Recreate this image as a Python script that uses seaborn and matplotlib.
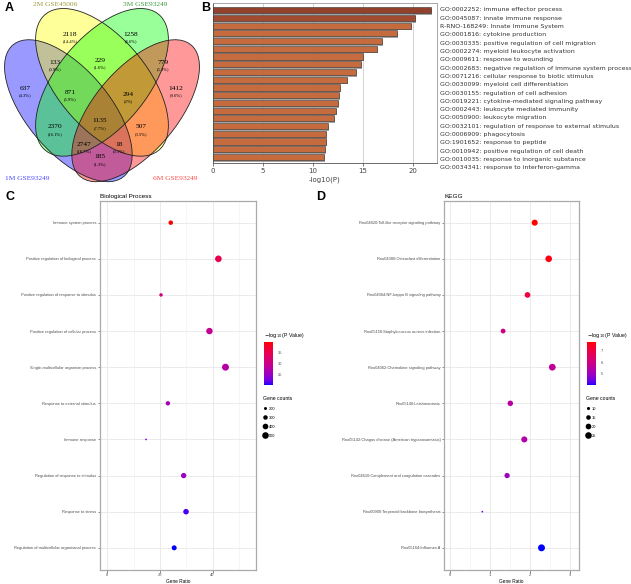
import numpy as np
import pandas as pd
import matplotlib
matplotlib.use("Agg")
import matplotlib.pyplot as plt
import seaborn as sns
from matplotlib.patches import Ellipse
from matplotlib.colors import ListedColormap, Normalize
from matplotlib.cm import ScalarMappable
from matplotlib.lines import Line2D
import matplotlib.patheffects as pe
import matplotlib.transforms as mtrans

# ------------------------------------------------------------------ data
venn_names = ["1M GSE93249", "2M GSE45006", "3M GSE93249", "6M GSE93249"]
venn_counts = [637, 2118, 1258, 1412, 133, 229, 779, 871, 294, 1135, 2370, 507, 2747, 18, 185]

go_terms = [
    "GO:0002252: immune effector process",
    "GO:0045087: innate immune response",
    "R-RNO-168249: Innate Immune System",
    "GO:0001816: cytokine production",
    "GO:0030335: positive regulation of cell migration",
    "GO:0002274: myeloid leukocyte activation",
    "GO:0009611: response to wounding",
    "GO:0002683: negative regulation of immune system process",
    "GO:0071216: cellular response to biotic stimulus",
    "GO:0030099: myeloid cell differentiation",
    "GO:0030155: regulation of cell adhesion",
    "GO:0019221: cytokine-mediated signaling pathway",
    "GO:0002443: leukocyte mediated immunity",
    "GO:0050900: leukocyte migration",
    "GO:0032101: regulation of response to external stimulus",
    "GO:0006909: phagocytosis",
    "GO:1901652: response to peptide",
    "GO:0010942: positive regulation of cell death",
    "GO:0010035: response to inorganic substance",
    "GO:0034341: response to interferon-gamma",
]
go_logp = [21.8, 20.2, 19.8, 18.4, 16.9, 16.4, 15.05, 14.85, 14.3, 13.45,
           12.75, 12.6, 12.5, 12.35, 12.1, 11.5, 11.35, 11.3, 11.2, 11.1]

bp_terms = [
    "Immune system process",
    "Positive regulation of biological process",
    "Positive regulation of response to stimulus",
    "Positive regulation of cellular process",
    "Single-multicellular organism process",
    "Response to external stimulus",
    "Immune response",
    "Regulation of response to stimulus",
    "Response to stress",
    "Regulation of multicellular organismal process",
]
bp_ratio = [24.1, 42.2, 20.4, 38.8, 44.9, 23.0, 14.7, 29.0, 29.9, 25.4]
bp_logp = [39.7, 35.0, 31.0, 29.0, 27.5, 26.0, 22.5, 25.0, 21.0, 20.1]
bp_count = [300, 500, 230, 480, 540, 290, 150, 370, 390, 340]
bp_size_breaks = [200, 300, 400, 500]
bp_color_ticks = [25, 30, 35]

kegg_terms = [
    "Rno04620:Toll-like receptor signaling pathway",
    "Rno04380:Osteoclast differentiation",
    "Rno04064:NF-kappa B signaling pathway",
    "Rno05150:Staphylococcus aureus infection",
    "Rno04062:Chemokine signaling pathway",
    "Rno05140:Leishmaniasis",
    "Rno05142:Chagas disease (American trypanosomiasis)",
    "Rno04610:Complement and coagulation cascades",
    "Rno00900:Terpenoid backbone biosynthesis",
    "Rno05164:Influenza A",
]
kegg_ratio = [2.12, 2.47, 1.94, 1.33, 2.56, 1.51, 1.86, 1.43, 0.81, 2.29]
kegg_logp = [7.7, 7.6, 7.0, 6.0, 5.6, 5.5, 5.4, 5.0, 4.4, 4.05]
kegg_count = [22, 25, 20, 16, 26, 19, 22, 18, 7, 27]
kegg_size_breaks = [10, 15, 20, 25]
kegg_color_ticks = [5, 6, 7]

# ------------------------------------------------------------------ helpers
W, H = 631, 584
fig = plt.figure(figsize=(W / 100, H / 100), dpi=100)


def px_axes(x0, y0, x1, y1):
    return fig.add_axes([x0 / W, 1 - y1 / H, (x1 - x0) / W, (y1 - y0) / H])


def _lab(rgb):
    rgb = np.asarray(rgb, float)
    c = np.where(rgb <= 0.04045, rgb / 12.92, ((rgb + 0.055) / 1.055) ** 2.4)
    M = np.array([[0.4124, 0.3576, 0.1805], [0.2126, 0.7152, 0.0722], [0.0193, 0.1192, 0.9505]])
    t = M @ c / np.array([0.95047, 1.0, 1.08883])
    f = np.where(t > 0.008856, np.cbrt(t), 7.787 * t + 16 / 116)
    return np.array([116 * f[1] - 16, 500 * (f[0] - f[1]), 200 * (f[1] - f[2])])


def _rgb(lab):
    L, a, b = lab
    fy = (L + 16) / 116
    fx = fy + a / 500
    fz = fy - b / 200
    f = np.array([fx, fy, fz])
    t = np.where(f ** 3 > 0.008856, f ** 3, (f - 16 / 116) / 7.787) * np.array([0.95047, 1.0, 1.08883])
    Mi = np.array([[3.2406, -1.5372, -0.4986], [-0.9689, 1.8758, 0.0415], [0.0557, -0.2040, 1.0570]])
    c = Mi @ t
    c = np.where(c <= 0.0031308, 12.92 * c, 1.055 * np.clip(c, 0, None) ** (1 / 2.4) - 0.055)
    return np.clip(c, 0, 1)


lab_lo, lab_hi = _lab([0, 0, 1]), _lab([1, 0, 0])
grad = ListedColormap([_rgb(lab_lo + (lab_hi - lab_lo) * t) for t in np.linspace(0, 1, 256)])

# ------------------------------------------------------------------ panel A: Venn
axA = px_axes(0, 0, 205, 185)
axA.set_xlim(0, 205)
axA.set_ylim(185, 0)
axA.axis("off")
to_px = mtrans.Affine2D().scale(232, -258).translate(-14, 230.7)
ell_geo = [((0.355, 0.465), 0.70, 0.34, -45), ((0.5, 0.575), 0.72, 0.37, -45),
           ((0.5, 0.575), 0.72, 0.37, 45), ((0.645, 0.465), 0.70, 0.34, 45)]
ell_cols = ["#0000FF", "#FFFF00", "#00FF00", "#FF0000"]
for (c, w, h, ang), col in zip(ell_geo, ell_cols):
    e = Ellipse(c, w, h, angle=ang, facecolor=col, alpha=0.4, edgecolor="none")
    e.set_transform(to_px + axA.transData)
    axA.add_patch(e)
for (c, w, h, ang) in ell_geo:
    e = Ellipse(c, w, h, angle=ang, facecolor="none", edgecolor="#222222", lw=0.6)
    e.set_transform(to_px + axA.transData)
    axA.add_patch(e)
venn_pos = [(25, 88), (70, 34), (131, 34), (176, 88), (55, 62), (100, 60), (163, 62),
            (70, 92), (128, 94), (100, 121), (55, 127), (141, 127), (84, 144), (119, 144), (100, 157)]
total = sum(venn_counts)
for n, (x, y) in zip(venn_counts, venn_pos):
    axA.text(x, y, str(n), ha="center", va="center", fontsize=5.3, family="Liberation Serif")
    axA.text(x, y + 7, "(%g%%)" % round(100 * n / total, 1), ha="center", va="center",
             fontsize=3.3, family="Liberation Serif")
name_pos = [(27, 178), (55, 4), (145, 4), (175, 178)]
name_cols = ["#4848FF", "#9A9A3A", "#3A9A3A", "#FF4848"]
for nm, (x, y), col in zip(venn_names, name_pos, name_cols):
    axA.text(x, y, nm, ha="center", va="center", fontsize=5.3, color=col, family="Liberation Serif")

# ------------------------------------------------------------------ panel B: bars
axB = px_axes(212.7, 2.7, 437, 163.3)
bar_cols = ["#A3381B", "#B4421E"] + ["#DD6426"] * (len(go_terms) - 2)
dfB = pd.DataFrame({"term": go_terms, "logp": go_logp})
sns.barplot(data=dfB, x="logp", y="term", hue="term", palette=bar_cols, legend=False,
            orient="h", width=0.8, edgecolor="#333333", linewidth=0.4, ax=axB, zorder=3)
for p in axB.patches:
    p.set_path_effects([pe.SimplePatchShadow(offset=(0.6, -1.1), shadow_rgbFace="#999999", alpha=0.9),
                        pe.Normal()])
axB.set_xlim(0, 22.4)
axB.set_ylim(19.82, -0.97)
axB.set_yticks([])
axB.set_ylabel("")
axB.set_xticks([0, 5, 10, 15, 20])
axB.tick_params(axis="x", labelsize=5, colors="#444444", length=2, width=0.5, pad=1.5)
axB.set_xlabel("-log10(P)", fontsize=5, color="#444444", labelpad=1.5)
axB.grid(axis="x", color="#CCCCCC", lw=0.6, zorder=0)
axB.set_axisbelow(True)
for s in axB.spines.values():
    s.set_color("#999999")
    s.set_linewidth(0.6)
axB.spines["left"].set_color("#555555")
axB.spines["bottom"].set_color("#555555")
for i, t in enumerate(go_terms):
    fig.text(440 / W, 1 - (10 + i * 8.3) / H, t, fontsize=4.5, color="#333333", va="center", ha="left")

# ------------------------------------------------------------------ panels C and D: bubbles
def bubble(ax, terms, ratio, logp, count, title, xlim, xticks, minor, size_breaks, ctick, cb_x, leg_x):
    df = pd.DataFrame({"term": terms, "ratio": ratio, "logp": logp, "count": count})
    cnorm = (min(logp), max(logp))
    snorm = (min(count), max(count))
    sizes = (1.5, 25.0)
    sns.scatterplot(data=df, x="ratio", y="term", hue="logp", size="count", palette=grad,
                    hue_norm=cnorm, sizes=sizes, size_norm=snorm, linewidth=0, legend=False,
                    ax=ax, zorder=3)
    n = len(terms)
    ax.set_ylim(n - 0.4, -0.6)
    ax.set_xlim(*xlim)
    ax.set_xticks(xticks)
    ax.set_xticks(minor, minor=True)
    ax.grid(True, which="major", color="#E8E8E8", lw=0.6, zorder=0)
    ax.grid(True, which="minor", axis="x", color="#F0F0F0", lw=0.4, zorder=0)
    ax.set_axisbelow(True)
    ax.tick_params(axis="both", which="major", labelsize=2.9, colors="#333333", length=1.8,
                   width=0.4, pad=1, labelcolor="#4D4D4D")
    ax.tick_params(axis="both", which="minor", length=0)
    for lab in ax.get_xticklabels() + ax.get_yticklabels():
        lab.set_family("Liberation Sans")
    for s in ax.spines.values():
        s.set_color("#AAAAAA")
        s.set_linewidth(0.9)
    ax.set_ylabel("")
    ax.set_xlabel("Gene Ratio", fontsize=3.4, family="Liberation Sans", labelpad=1.0)
    ax.set_title(title, loc="left", fontsize=4.6, family="Liberation Sans", pad=2.5)
    # colour bar
    cax = px_axes(cb_x, 342.3, cb_x + 9, 385)
    sm = ScalarMappable(norm=Normalize(*cnorm), cmap=grad)
    cb = fig.colorbar(sm, cax=cax)
    cb.outline.set_visible(False)
    cb.set_ticks(ctick)
    cb.ax.tick_params(labelsize=2.9, length=2, width=0.4, color="white", pad=1.5, labelcolor="#4D4D4D")
    for lab in cb.ax.get_yticklabels():
        lab.set_family("Liberation Sans")
    fig.text(cb_x / W, 1 - 336 / H, r"$-\log_{10}$(P Value)", fontsize=3.7, va="center",
             ha="left", family="Liberation Sans")
    # size legend
    handles = []
    for b in size_breaks:
        s = sizes[0] + (sizes[1] - sizes[0]) * (b - snorm[0]) / (snorm[1] - snorm[0])
        handles.append(Line2D([], [], marker="o", ls="", color="black", markersize=np.sqrt(s),
                              markeredgewidth=0))
    leg = fig.legend(handles, [str(b) for b in size_breaks], title="Gene counts", loc="upper left",
                     bbox_to_anchor=(leg_x / W, 1 - 396.5 / H), frameon=False, fontsize=2.9,
                     title_fontsize=3.7, labelspacing=1.25, handletextpad=0.4, handlelength=1.0,
                     borderpad=0, borderaxespad=0, alignment="left",
                     prop={"family": "Liberation Sans", "size": 2.9})
    leg.get_title().set_family("Liberation Sans")


axC = px_axes(100, 201, 256, 569.5)
bubble(axC, bp_terms, bp_ratio, bp_logp, bp_count, "Biological Process", (-2.8, 56.5),
       [0, 20, 40], [10, 30, 50], bp_size_breaks, bp_color_ticks, 264.3, 263)
axD = px_axes(444.3, 201, 578.7, 569.5)
bubble(axD, kegg_terms, kegg_ratio, kegg_logp, kegg_count, "KEGG", (-0.14, 3.22),
       [0, 1, 2, 3], [0.5, 1.5, 2.5], kegg_size_breaks, kegg_color_ticks, 587.3, 586)

# panel letters
for lt, (x, y) in zip("ABCD", [(5, 8), (201, 8), (5, 197), (316, 197)]):
    fig.text(x / W, 1 - y / H, lt, fontsize=9, fontweight="bold", family="Liberation Sans",
             va="center", ha="left")

fig.savefig("out.png", dpi=100)
